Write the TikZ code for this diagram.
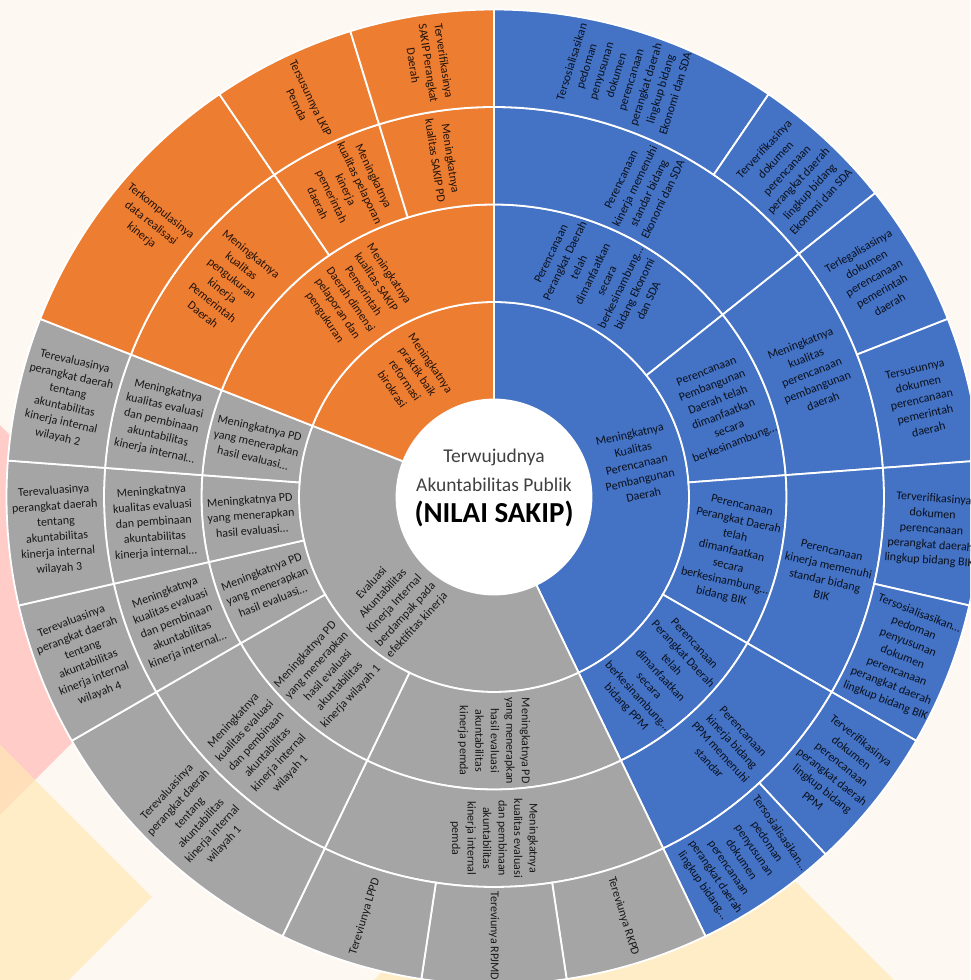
\documentclass[tikz,border=0pt]{standalone}
\usepackage{fontspec}
\setmainfont{Carlito}
\definecolor{cream}{RGB}{254,248,242}
\definecolor{pinkdeco}{RGB}{255,204,200}
\definecolor{yellowdeco}{RGB}{255,237,199}
\definecolor{peachdeco}{RGB}{255,222,186}
\definecolor{orangeseg}{RGB}{237,125,49}
\definecolor{blueseg}{RGB}{68,114,196}
\definecolor{grayseg}{RGB}{165,165,165}
\definecolor{darktxt}{RGB}{64,64,64}
\tikzstyle{lbl}=[align=center,inner sep=0pt,text=black,text opacity=0.85,font=\fontsize{12}{15.5}\selectfont]
\tikzstyle{border}=[draw=white,line width=1.8pt]

\begin{document}
\begin{tikzpicture}[x=1pt,y=1pt]
\useasboundingbox (-494,-483) rectangle (476,497);
\clip (-494,-483) rectangle (476,497);
\fill[cream] (-494,-483) rectangle (476,497);
% background diamonds
\fill[pinkdeco] (-299,-123) -- (-599,177) -- (-899,-123) -- (-599,-423) -- cycle;
\fill[yellowdeco] (-342,-400) -- (-642,-100) -- (-942,-400) -- (-642,-700) -- cycle;
\begin{scope}
  \clip (-299,-123) -- (-599,177) -- (-899,-123) -- (-599,-423) -- cycle;
  \fill[peachdeco] (-342,-400) -- (-642,-100) -- (-942,-400) -- (-642,-700) -- cycle;
\end{scope}
\fill[yellowdeco] (140,-223) -- (540,-623) -- (140,-1023) -- (-260,-623) -- cycle;

% rings: ring/from/to (in 1/21 of a turn, clockwise from top)/colour/name/text
\foreach \ring/\ka/\kb/\col/\nm/\txt in {
  1/0/9/blueseg/bOne/{Meningkatnya\\Kualitas\\Perencanaan\\Pembangunan\\Daerah},
  2/0/3/blueseg/bTwoEko/{Perencanaan\\Perangkat Daerah\\telah\\dimanfaatkan\\secara\\berkesinambung…\\bidang Ekonomi\\dan SDA},
  2/3/5/blueseg/bTwoBang/{Perencanaan\\Pembangunan\\Daerah telah\\dimanfaatkan\\secara\\berkesinambung…},
  2/5/7/blueseg/bTwoBik/{Perencanaan\\Perangkat Daerah\\telah\\dimanfaatkan\\secara\\berkesinambung…\\bidang BIK},
  2/7/9/blueseg/bTwoPpm/{Perencanaan\\Perangkat Daerah\\telah\\dimanfaatkan\\secara\\berkesinambung…\\bidang PPM},
  3/0/3/blueseg/bThreeEko/{Perencanaan\\kinerja memenuhi\\standar bidang\\Ekonomi dan SDA},
  3/3/5/blueseg/bThreeBang/{Meningkatnya\\kualitas\\perencanaan\\pembangunan\\daerah},
  3/5/7/blueseg/bThreeBik/{Perencanaan\\kinerja memenuhi\\standar bidang\\BIK},
  3/7/9/blueseg/bThreePpm/{Perencanaan\\kinerja bidang\\PPM memenuhi\\standar},
  4/0/2/blueseg/bSosEko/{Tersosialisasikan\\pedoman\\penyusunan\\dokumen\\perencanaan\\perangkat daerah\\lingkup bidang\\Ekonomi dan SDA},
  4/2/3/blueseg/bVerEko/{Terverifikasinya\\dokumen\\perencanaan\\perangkat daerah\\lingkup bidang\\Ekonomi dan SDA},
  4/3/4/blueseg/bLegal/{Terlegalisasinya\\dokumen\\perencanaan\\pemerintah\\daerah},
  4/4/5/blueseg/bSusun/{Tersusunnya\\dokumen\\perencanaan\\pemerintah\\daerah},
  4/5/6/blueseg/bVerBik/{Terverifikasinya\\dokumen\\perencanaan\\perangkat daerah\\lingkup bidang BIK},
  4/6/7/blueseg/bSosBik/{Tersosialisasikan…\\pedoman\\penyusunan\\dokumen\\perencanaan\\perangkat daerah\\lingkup bidang BIK},
  4/7/8/blueseg/bVerPpm/{Terverifikasinya\\dokumen\\perencanaan\\perangkat daerah\\lingkup bidang\\PPM},
  4/8/9/blueseg/bSosPpm/{Tersosialisasikan…\\pedoman\\penyusunan\\dokumen\\perencanaan\\perangkat daerah\\lingkup bidang…},
  1/9/17/grayseg/gOne/{Evaluasi\\Akuntabilitas\\Kinerja Internal\\berdampak pada\\efektifitas kinerja},
  2/9/12/grayseg/gTwoPemda/{Meningkatnya PD\\yang menerapkan\\hasil evaluasi\\akuntabilitas\\kinerja pemda},
  2/12/14/grayseg/gTwoWilA/{Meningkatnya PD\\yang menerapkan\\hasil evaluasi\\akuntabilitas\\kinerja wilayah 1},
  2/14/15/grayseg/gTwoWilD/{Meningkatnya PD\\yang menerapkan\\hasil evaluasi…},
  2/15/16/grayseg/gTwoWilC/{Meningkatnya PD\\yang menerapkan\\hasil evaluasi…},
  2/16/17/grayseg/gTwoWilB/{Meningkatnya PD\\yang menerapkan\\hasil evaluasi…},
  3/9/12/grayseg/gThreePemda/{Meningkatnya\\kualitas evaluasi\\dan pembinaan\\akuntabilitas\\kinerja internal\\pemda},
  3/12/14/grayseg/gThreeWilA/{Meningkatnya\\kualitas evaluasi\\dan pembinaan\\akuntabilitas\\kinerja internal\\wilayah 1},
  3/14/15/grayseg/gThreeWilD/{Meningkatnya\\kualitas evaluasi\\dan pembinaan\\akuntabilitas\\kinerja internal…},
  3/15/16/grayseg/gThreeWilC/{Meningkatnya\\kualitas evaluasi\\dan pembinaan\\akuntabilitas\\kinerja internal…},
  3/16/17/grayseg/gThreeWilB/{Meningkatnya\\kualitas evaluasi\\dan pembinaan\\akuntabilitas\\kinerja internal…},
  4/9/10/grayseg/gRkpd/{Tereviunya RKPD},
  4/10/11/grayseg/gRpjmd/{Tereviunya RPJMD},
  4/11/12/grayseg/gLppd/{Tereviunya LPPD},
  4/12/14/grayseg/gWilA/{Terevaluasinya\\perangkat daerah\\tentang\\akuntabilitas\\kinerja internal\\wilayah 1},
  4/14/15/grayseg/gWilD/{Terevaluasinya\\perangkat daerah\\tentang\\akuntabilitas\\kinerja internal\\wilayah 4},
  4/15/16/grayseg/gWilC/{Terevaluasinya\\perangkat daerah\\tentang\\akuntabilitas\\kinerja internal\\wilayah 3},
  4/16/17/grayseg/gWilB/{Terevaluasinya\\perangkat daerah\\tentang\\akuntabilitas\\kinerja internal\\wilayah 2},
  1/17/21/orangeseg/oOne/{Meningkatnya\\praktik baik\\reformasi\\birokrasi},
  2/17/21/orangeseg/oTwo/{Meningkatnya\\kualitas SAKIP\\Pemerintah\\Daerah dimensi\\pelaporan dan\\pengukuran},
  3/17/19/orangeseg/oThreeUkur/{Meningkatnya\\kualitas\\pengukuran\\kinerja\\Pemerintah\\Daerah},
  3/19/20/orangeseg/oThreeLapor/{Meningkatnya\\kualitas pelaporan\\kinerja\\pemerintah\\daerah},
  3/20/21/orangeseg/oThreePd/{Meningkatnya\\kualitas SAKIP PD},
  4/17/19/orangeseg/oKompul/{Terkompulasinya\\data realisasi\\kinerja},
  4/19/20/orangeseg/oLkip/{Tersusunnya LKIP\\Pemda},
  4/20/21/orangeseg/oVerif/{Terverifikasinya\\SAKIP Perangkat\\Daerah}}
{
  \pgfmathsetmacro{\angA}{90-\ka*360/21}
  \pgfmathsetmacro{\angB}{90-\kb*360/21}
  \pgfmathsetmacro{\angM}{(\angA+\angB)/2}
  \pgfmathsetmacro{\radI}{\ring*97.5}
  \pgfmathsetmacro{\radO}{(\ring+1)*97.5}
  \pgfmathsetmacro{\radM}{(\ring+0.5)*97.5}
  \pgfmathsetmacro{\rotM}{ifthenelse(cos(\angM)<-0.01,\angM+180,\angM)}
  \filldraw[fill=\col,border] (\angA:\radI pt) arc[start angle=\angA,end angle=\angB,radius=\radI pt]
    -- (\angB:\radO pt) arc[start angle=\angB,end angle=\angA,radius=\radO pt] -- cycle;
  \node[lbl,rotate=\rotM] (\nm) at (\angM:\radM pt) {\txt};
}

% centre
\fill[white] (0,0) circle[radius=97.5pt];
\node[font=\fontsize{19.5}{23}\selectfont,text=darktxt] (wujud) at (0,40) {Terwujudnya};
\node[font=\fontsize{19.5}{23}\selectfont,text=darktxt] (publik) at (0,12) {Akuntabilitas Publik};
\node[font=\fontsize{29}{32}\selectfont\bfseries] (nilai) at (0,-17) {(NILAI SAKIP)};
\end{tikzpicture}
\end{document}
